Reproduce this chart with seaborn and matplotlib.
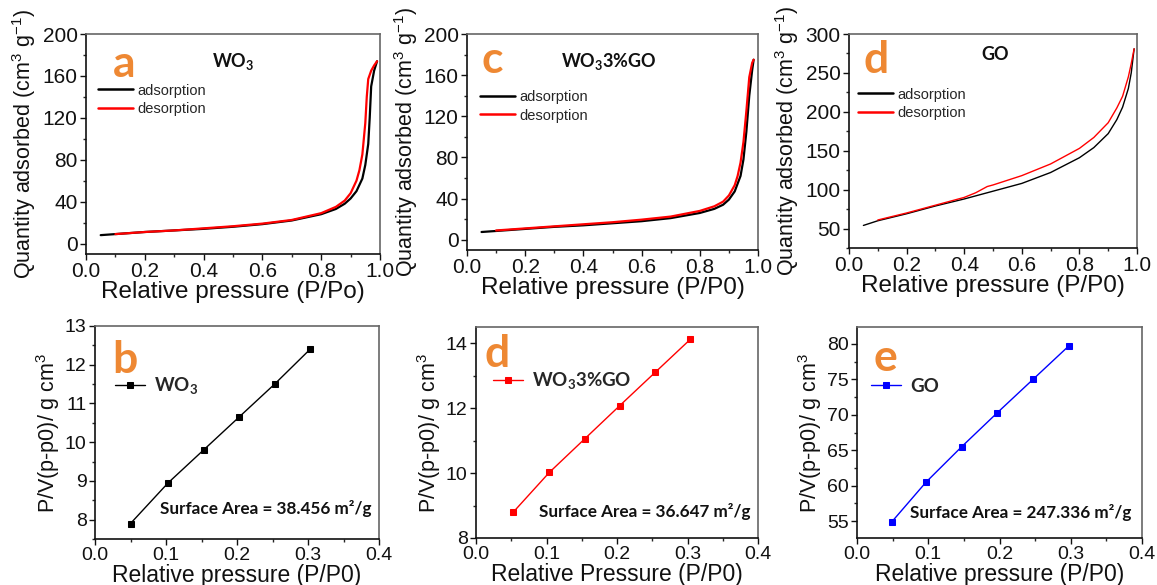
import numpy as np
import pandas as pd
import matplotlib
matplotlib.use("Agg")
import matplotlib.pyplot as plt
import seaborn as sns
from matplotlib.ticker import AutoMinorLocator, MultipleLocator

# ---------------- data ----------------
# (a) WO3 isotherm
a_ads_x = [0.05, 0.1, 0.2, 0.3, 0.4, 0.5, 0.6, 0.7, 0.8, 0.85, 0.88, 0.9, 0.92, 0.94, 0.95, 0.96, 0.965, 0.97, 0.98, 0.99]
a_ads_y = [8, 9, 11, 12.5, 14, 16, 18.5, 22, 28, 33, 38, 43, 50, 62, 75, 95, 120, 150, 165, 174]
a_des_x = [0.1, 0.2, 0.3, 0.4, 0.5, 0.6, 0.7, 0.8, 0.85, 0.88, 0.9, 0.92, 0.93, 0.94, 0.95, 0.955, 0.96, 0.97, 0.98, 0.99]
a_des_y = [9, 11, 12.5, 14.5, 16.5, 19, 22.5, 29, 35, 41, 48, 60, 70, 85, 115, 140, 157, 165, 170, 174]

# (c) WO3 3%GO isotherm
c_ads_x = [0.05, 0.1, 0.2, 0.3, 0.4, 0.5, 0.6, 0.7, 0.8, 0.85, 0.88, 0.9, 0.92, 0.94, 0.95, 0.96, 0.97, 0.98, 0.985]
c_ads_y = [7.5, 8.5, 10.5, 12.5, 14, 16, 18, 21, 26, 30, 34, 39, 47, 62, 78, 105, 140, 165, 175]
c_des_x = [0.1, 0.2, 0.3, 0.4, 0.5, 0.6, 0.7, 0.8, 0.85, 0.88, 0.9, 0.92, 0.93, 0.94, 0.95, 0.96, 0.97, 0.98, 0.985]
c_des_y = [9, 11, 13, 15, 17, 19.5, 22.5, 28, 32.5, 37, 43, 53, 62, 75, 95, 125, 158, 172, 175]

# (d) GO isotherm
go_ads_x = [0.05, 0.1, 0.2, 0.3, 0.4, 0.5, 0.6, 0.7, 0.8, 0.85, 0.9, 0.93, 0.95, 0.97, 0.98, 0.99]
go_ads_y = [54, 60, 69, 79, 88, 98, 108, 122, 141, 154, 172, 190, 206, 230, 250, 281]
go_des_x = [0.1, 0.2, 0.3, 0.4, 0.44, 0.48, 0.5, 0.6, 0.7, 0.8, 0.85, 0.9, 0.93, 0.95, 0.97, 0.98, 0.99]
go_des_y = [61, 70, 80, 90, 96, 104, 106, 118, 133, 153, 167, 186, 205, 220, 245, 262, 281]

# BET plots
b_x = [0.05, 0.103, 0.153, 0.203, 0.253, 0.303]
b_y = [7.9, 8.95, 9.8, 10.65, 11.5, 12.4]
d2_x = [0.053, 0.104, 0.154, 0.204, 0.254, 0.304]
d2_y = [8.8, 10.02, 11.05, 12.08, 13.1, 14.12]
e_x = [0.049, 0.097, 0.147, 0.197, 0.247, 0.297]
e_y = [54.9, 60.5, 65.5, 70.3, 75.0, 79.7]

# ---------------- style ----------------
sns.set_theme(style="ticks")
plt.rcParams['font.family'] = ['Liberation Sans', 'DejaVu Sans']
plt.rcParams['mathtext.fontset'] = 'custom'
plt.rcParams['mathtext.rm'] = 'Liberation Sans'
plt.rcParams['mathtext.it'] = 'Liberation Sans'
plt.rcParams['mathtext.bf'] = 'Lato:bold'

W, H = 1157, 585
fig = plt.figure(figsize=(W / 100, H / 100), dpi=100)
fig.patch.set_facecolor('white')

ORANGE = '#EE8833'
BOLDFONT = ['Lato', 'DejaVu Sans']


def px_axes(l, t, r, b):
    return fig.add_axes([l / W, 1 - b / H, (r - l) / W, (b - t) / H])


def style_axes(ax, tick_fs):
    for s in ['top', 'right']:
        ax.spines[s].set_color('#666666')
        ax.spines[s].set_linewidth(1.2)
    for s in ['left', 'bottom']:
        ax.spines[s].set_color('#111111')
        ax.spines[s].set_linewidth(1.2)
    ax.xaxis.set_minor_locator(AutoMinorLocator(2))
    ax.yaxis.set_minor_locator(AutoMinorLocator(2))
    ax.tick_params(which='major', direction='out', length=4, width=1, labelsize=tick_fs,
                   colors='#111111', top=False, right=False, pad=2)
    ax.tick_params(which='minor', direction='out', length=2.5, width=1, top=False, right=False)
    ax.set_facecolor('white')


def iso_panel(box, ads_x, ads_y, des_x, des_y, ylim, yticks, xlabel, letter, lpos,
              title, tpos, legpos, lw):
    ax = px_axes(*box)
    sns.lineplot(x=ads_x, y=ads_y, ax=ax, color='black', lw=lw, sort=False,
                 estimator=None, label='adsorption')
    sns.lineplot(x=des_x, y=des_y, ax=ax, color='#FF0000', lw=lw, sort=False,
                 estimator=None, label='desorption')
    ax.set_xlim(0, 1.0)
    ax.set_ylim(*ylim)
    ax.set_yticks(yticks)
    ax.xaxis.set_major_locator(MultipleLocator(0.2))
    style_axes(ax, 15)
    ax.set_xlabel(xlabel, fontsize=17.5, labelpad=0, color='#111111')
    ax.set_ylabel('Quantity adsorbed (cm$^3$ g$^{-1}$)', fontsize=15.5, labelpad=3, color='#111111')
    ax.text(lpos[0], lpos[1], letter, transform=ax.transAxes, color=ORANGE,
            fontsize=32, fontweight='bold', family=BOLDFONT, ha='center', va='baseline')
    ax.text(tpos[0], tpos[1], title, transform=ax.transAxes, color='#111111',
            fontsize=13, fontweight='bold', family=BOLDFONT, ha='center', va='center')
    leg = ax.legend(loc='upper left', bbox_to_anchor=legpos, frameon=False, fontsize=10.5,
                    borderaxespad=0, borderpad=0, handlelength=2.4, handletextpad=0.3,
                    labelspacing=0.3)
    for h in leg.legend_handles:
        h.set_linewidth(1.8)
    return ax


def bet_panel(box, x, y, color, ylim, yticks, xlabel, letter, lpos, name, legpos,
              sa_text, sapos):
    ax = px_axes(*box)
    sns.lineplot(x=x, y=y, ax=ax, color=color, lw=1, marker='s', markersize=4.2,
                 markeredgecolor=color, sort=False, estimator=None, label=name)
    ax.set_xlim(0, 0.4)
    ax.set_ylim(*ylim)
    ax.set_yticks(yticks)
    ax.xaxis.set_major_locator(MultipleLocator(0.1))
    style_axes(ax, 14)
    ax.set_xlabel(xlabel, fontsize=16.5, labelpad=0, color='#111111')
    ax.set_ylabel('P/V(p-p0)/ g cm$^3$', fontsize=15.5, labelpad=2, color='#111111')
    ax.text(lpos[0], lpos[1], letter, transform=ax.transAxes, color=ORANGE,
            fontsize=32, fontweight='bold', family=BOLDFONT, ha='center', va='baseline')
    leg = ax.legend(loc='center left', bbox_to_anchor=legpos, frameon=False,
                    prop={'family': BOLDFONT, 'weight': 'bold', 'size': 13.5},
                    borderaxespad=0, borderpad=0, handlelength=1.6, handletextpad=0.5)
    for h in leg.legend_handles:
        h.set_markersize(4)
    ax.text(sapos[0], sapos[1], sa_text, transform=ax.transAxes, color='#111111',
            fontsize=12.3, fontweight='bold', family=BOLDFONT, ha='center', va='center')
    return ax


iso_panel((86, 34, 380, 254), a_ads_x, a_ads_y, a_des_x, a_des_y, (-10, 200),
          [0, 40, 80, 120, 160, 200], 'Relative pressure (P/Po)', 'a', (0.13, 0.805),
          'WO$_\\mathbf{3}$', (0.50, 0.877), (0.04, 0.775), 1.6)
iso_panel((467, 34, 758, 250), c_ads_x, c_ads_y, c_des_x, c_des_y, (-10, 200),
          [0, 40, 80, 120, 160, 200], 'Relative pressure (P/P0)', 'c', (0.086, 0.82),
          'WO$_\\mathbf{3}$3%GO', (0.488, 0.875), (0.045, 0.74), 1.6)
iso_panel((849, 34, 1137, 248), go_ads_x, go_ads_y, go_des_x, go_des_y, (25, 300),
          [50, 100, 150, 200, 250, 300], 'Relative pressure (P/P0)', 'd', (0.094, 0.82),
          'GO', (0.507, 0.906), (0.03, 0.75), 1.0)

bet_panel((95, 326, 379, 539), b_x, b_y, 'black', (7.5, 13), [8, 9, 10, 11, 12, 13],
          'Relative pressure (P/P0)', 'b', (0.106, 0.78), 'WO$_\\mathbf{3}$', (0.07, 0.72),
          'Surface Area = 38.456 m²/g', (0.60, 0.145))
bet_panel((476, 327, 758, 538), d2_x, d2_y, '#FF0000', (8, 14.5), [8, 10, 12, 14],
          'Relative Pressure (P/P0)', 'd', (0.074, 0.81), 'WO$_\\mathbf{3}$3%GO', (0.06, 0.745),
          'Surface Area = 36.647 m²/g', (0.60, 0.125))
bet_panel((857, 327, 1142, 538), e_x, e_y, '#0000FF', (52.6, 82.4), [55, 60, 65, 70, 75, 80],
          'Relative pressure (P/P0)', 'e', (0.10, 0.79), 'GO', (0.05, 0.72),
          'Surface Area = 247.336 m²/g', (0.575, 0.123))

fig.savefig('out.png', dpi=100, facecolor='white')
